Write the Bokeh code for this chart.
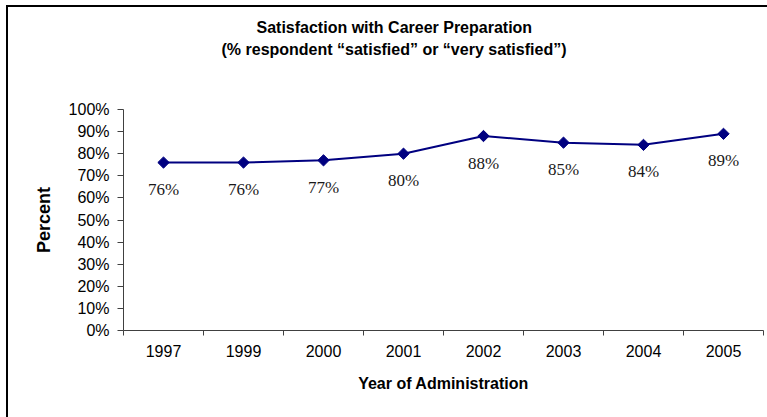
import math
from bokeh.plotting import figure
from bokeh.models import (Range1d, FixedTicker, CustomJSTickFormatter,
                          PrintfTickFormatter, Title, ColumnDataSource)
from bokeh.core.properties import value
from bokeh.embed import file_html
from bokeh.resources import INLINE

# ---- data ----
years = ["1997", "1999", "2000", "2001", "2002", "2003", "2004", "2005"]
satisfied_pct = [76, 76, 77, 80, 88, 85, 84, 89]
y_tick_values = [0, 10, 20, 30, 40, 50, 60, 70, 80, 90, 100]
title_lines = ["Satisfaction with Career Preparation",
               "(% respondent \u201csatisfied\u201d or \u201cvery satisfied\u201d)"]
x_title = "Year of Administration"
y_title = "Percent"

NAVY = "#000080"
AXIS = "#404040"
SANS = "Liberation Sans"
SERIF = "Liberation Serif"

n = len(years)
# each category occupies one unit slot; the point sits at the slot centre
slot_centre = [i + 0.5 for i in range(n)]
source = ColumnDataSource(dict(
    x=slot_centre,
    pct=satisfied_pct,
    label=[f"{v}%" for v in satisfied_pct],
))

p = figure(width=767, height=417,
           x_range=Range1d(0, n), y_range=Range1d(0, 100),
           output_backend="svg", toolbar_location=None,
           min_border_left=123, min_border_right=4,
           min_border_top=109, min_border_bottom=87,
           background_fill_color="white", border_fill_color=None)
p.outline_line_color = None
p.xgrid.visible = False
p.ygrid.visible = False
# chart-area frame (left and top edges; right/bottom lie outside the picture)
p.styles = {
    "background": ("linear-gradient(#000,#000) 6px 5px / 2px 100% no-repeat, "
                   "linear-gradient(#000,#000) 6px 5px / 100% 2px no-repeat, #fff"),
}

xaxis = p.xaxis[0]
xaxis.ticker = FixedTicker(ticks=slot_centre, minor_ticks=list(range(n + 1)))
xaxis.formatter = CustomJSTickFormatter(args=dict(labels=years),
                                        code="return labels[Math.floor(tick)];")
xaxis.major_tick_in = 0
xaxis.major_tick_out = 0
xaxis.minor_tick_in = 0
xaxis.minor_tick_out = 5
xaxis.minor_tick_line_color = AXIS
xaxis.axis_line_color = AXIS
xaxis.major_label_standoff = 9
xaxis.major_label_text_font = SANS
xaxis.major_label_text_font_size = "16px"
xaxis.major_label_text_color = "black"
xaxis.axis_label = x_title
xaxis.axis_label_text_font = SANS
xaxis.axis_label_text_font_size = "16px"
xaxis.axis_label_text_font_style = "bold"
xaxis.axis_label_text_color = "black"
xaxis.axis_label_standoff = 15

yaxis = p.yaxis[0]
yaxis.ticker = FixedTicker(ticks=y_tick_values)
yaxis.formatter = PrintfTickFormatter(format="%d%%")
yaxis.major_tick_in = 0
yaxis.major_tick_out = 6
yaxis.minor_tick_out = 0
yaxis.minor_tick_in = 0
yaxis.major_tick_line_color = AXIS
yaxis.axis_line_color = AXIS
yaxis.major_label_standoff = 8
yaxis.major_label_text_font = SANS
yaxis.major_label_text_font_size = "16px"
yaxis.major_label_text_color = "black"
yaxis.axis_label = y_title
yaxis.axis_label_text_font = SANS
yaxis.axis_label_text_font_size = "18px"
yaxis.axis_label_text_font_style = "bold"
yaxis.axis_label_text_color = "black"
yaxis.axis_label_standoff = 12

# series
p.line(x="x", y="pct", source=source, line_color=NAVY, line_width=2)
p.scatter(x="x", y="pct", source=source, marker="square", size=8,
          angle=math.pi / 4, fill_color=NAVY, line_color=NAVY)
p.text(x="x", y="pct", text="label", source=source,
       y_offset=27, text_align="center", text_baseline="middle",
       text_font=value(SERIF), text_font_size="17px", text_color="#1a1a1a")

# two-line title, centred over the whole chart area (not the plot frame);
# a blank title acts as a spacer between the frame and the heading
p.add_layout(Title(text=" ", standoff=30, text_font_size="16px"), "above")
for line, off in zip(reversed(title_lines), [98, 133]):
    p.add_layout(Title(text=line, align="left", offset=off,
                       vertical_align="middle", standoff=3,
                       text_font=SANS, text_font_size="16px",
                       text_font_style="bold", text_color="black"), "above")

open("out.html", "w").write(file_html(p, INLINE))
